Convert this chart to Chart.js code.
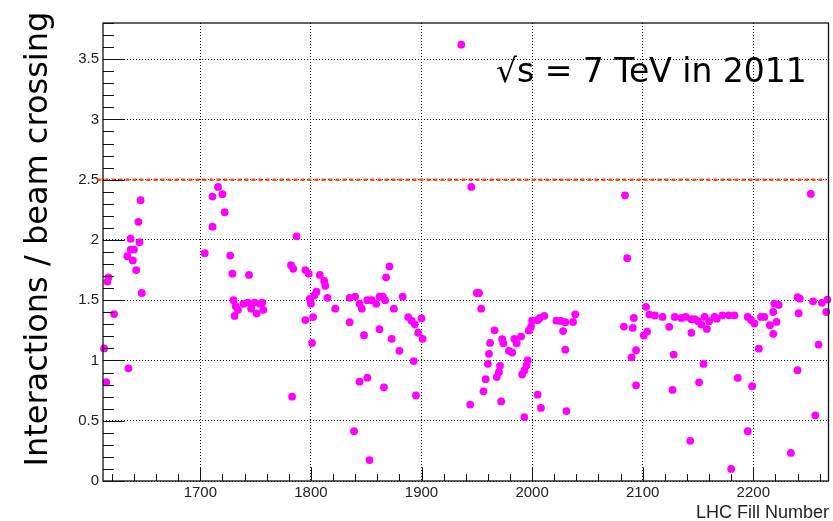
<!DOCTYPE html>
<html><head><meta charset="utf-8">
<script src="https://cdn.jsdelivr.net/npm/chart.js@4.4.1/dist/chart.umd.min.js"></script>
<style>html,body{margin:0;padding:0;background:#fff;} #wrap{width:833px;height:521px;position:relative;}</style>
</head><body><div id="wrap"><canvas id="c" width="833" height="521"></canvas></div>
<script>
// LHC fill numbers (x) and mean interactions per beam crossing (y)
const fillNumbers = [
  1613,1615,1616,1617,1622,1634,1635,1637,1637,1639,1640,1642,1644,1645,1646,1647,
  1704,1711,1711,1716,1720,1722,1727,1729,1744,1730,1731,1732,1734,1739,1743,1749,1754,1751,1757,1746,1756,
  1782,1784,1787,1783,1795,1798,1808,1812,1813,1815,1822,1805,1803,1799,1800,1795,1802,1801,
  1835,1835,1840,1844,1846,1851,1855,1859,1862,1865,1867,1871,1868,1875,1883,1848,1862,1873,1880,1888,1891,1894,1897,1901,1900,1893,1895,1844,1851,1866,1839,1853,
  1936,1945,1944,1952,1950,1954,1956,1958,1960,1961,1962,1966,1968,1970,1971,1972,1973,1974,1979,1982,1984,1986,1990,1991,1993,1995,1996,1993,1997,1999,2000,2005,2007,2011,2005,2008,
  2022,2026,2030,2028,2030,2031,2037,2039,
  2084,2086,2083,2091,2092,2094,2090,2094,2103,2101,
  2104,2106,2111,2118,2124,2128,2127,2129,2135,2139,
  2144,2147,2144,2150,2153,2156,2158,2160,2165,2167,
  2172,2178,2183,2155,2151,2143,2186,2180,2195,2195,
  2198,2201,2199,2205,2207,2210,2218,2219,2223,2215,
  2221,2218,2240,2242,2241,2240,2234,2252,2254,2259,
  2256,2262,2267,2266
];
const interactions = [
  1.10,0.82,1.655,1.69,1.385,1.865,0.935,1.92,2.01,1.83,1.92,1.75,2.15,1.98,2.33,1.56,
  1.89,2.11,2.36,2.44,2.38,2.23,1.87,1.72,1.71,1.50,1.37,1.45,1.42,1.47,1.48,1.48,1.47,1.39,1.42,1.43,1.48,
  1.79,1.76,2.03,0.70,1.75,1.72,1.71,1.66,1.62,1.52,1.43,1.57,1.54,1.51,1.47,1.335,1.36,1.145,
  1.317,1.52,1.53,1.47,1.43,1.50,1.50,1.47,1.53,1.53,1.50,1.78,1.69,1.43,1.53,1.21,1.26,1.18,1.08,1.36,1.33,1.30,1.23,1.18,1.35,0.995,0.71,0.824,0.857,0.777,0.413,0.174,
  3.62,2.44,0.634,1.56,1.56,1.43,0.744,0.845,0.972,1.055,1.146,1.25,0.862,0.903,0.956,0.66,1.176,1.143,1.08,1.066,1.18,1.143,1.198,0.884,0.917,0.959,1.0,0.53,1.248,1.28,1.33,1.336,1.353,1.37,0.716,0.606,
  1.33,1.328,1.317,1.244,1.09,0.58,1.32,1.383,
  2.37,1.848,1.281,1.27,1.353,1.085,1.026,0.794,1.445,1.207,
  1.24,1.381,1.373,1.361,1.279,1.049,0.756,1.361,1.353,1.361,
  1.342,1.342,1.229,1.326,1.298,1.361,1.262,1.326,1.361,1.347,
  1.375,1.375,1.375,0.971,0.819,0.333,0.855,0.10,0.413,1.361,
  1.336,1.306,0.786,1.098,1.361,1.361,1.402,1.472,1.461,1.293,
  1.32,1.221,1.525,1.513,1.392,0.919,0.233,2.382,1.491,1.132,
  0.545,1.478,1.505,1.402
];
const xTicks = [1700,1800,1900,2000,2100,2200];
const yTicks = [0,0.5,1,1.5,2,2.5,3,3.5];
const referenceMu = [2.5, 2.5];
const referenceFills = [1607, 2266];
const xRange = [1612, 2268];
const yRange = [0, 3.8];
const yTitle = 'Interactions / beam crossing';
const xTitle = 'LHC Fill Number';
const energyLabel = '\u221As = 7 TeV in 2011';

const points = fillNumbers.map((f,i)=>({x:f, y:interactions[i]}));
const refLine = referenceFills.map((f,i)=>({x:f, y:referenceMu[i]}));

const rootFrame = {
  id:'rootFrame',
  afterDraw(chart){
    const ctx = chart.ctx, a = chart.chartArea;
    const xs = chart.scales.x, ys = chart.scales.y;
    ctx.save();
    ctx.strokeStyle = '#111';
    ctx.lineWidth = 1.3;
    ctx.strokeRect(a.left, a.top, a.right-a.left, a.bottom-a.top);
    ctx.lineWidth = 1;
    ctx.beginPath();
    for(let i=0;i<=38;i++){
      const p = Math.round(ys.getPixelForValue(i/10))+0.5;
      const len = (i%5===0)?21.7:10.9;
      ctx.moveTo(a.left, p); ctx.lineTo(a.left+len, p);
    }
    for(let v=1620; v<=xRange[1]; v+=20){
      const p = Math.round(xs.getPixelForValue(v))+0.5;
      const len = (v%100===0)?13.7:6.9;
      ctx.moveTo(p, a.bottom); ctx.lineTo(p, a.bottom-len);
    }
    ctx.stroke();
    ctx.fillStyle = '#000';
    ctx.font = '33px "DejaVu Sans"';
    ctx.textAlign = 'left';
    ctx.textBaseline = 'alphabetic';
    ctx.fillText(energyLabel, 496, 82);
    ctx.font = '18px "Liberation Sans"';
    ctx.textAlign = 'right';
    ctx.fillStyle = '#222';
    ctx.fillText(xTitle, 829, 518);
    ctx.save();
    ctx.translate(46.5, 466.5);
    ctx.rotate(-Math.PI/2);
    ctx.textAlign = 'left';
    ctx.fillStyle = '#000';
    ctx.font = '32px "DejaVu Sans"';
    ctx.fillText(yTitle, 0, 0);
    ctx.restore();
    ctx.restore();
  }
};

new Chart(document.getElementById('c'), {
  type:'scatter',
  data:{datasets:[
    {label:'reference', data:refLine, showLine:true, borderColor:'#ff4a1a', borderWidth:2.5,
     borderDash:[4,3], pointRadius:0, clip:false, order:2},
    {label:'fills', data:points, backgroundColor:'#ff00ff', borderWidth:0, pointRadius:3.9,
     pointHoverRadius:3.9, clip:5, order:1}
  ]},
  options:{
    responsive:false, animation:false, devicePixelRatio:1,
    layout:{padding:{left:0, top:23, right:4.5, bottom:0}},
    plugins:{legend:{display:false}, tooltip:{enabled:false}},
    scales:{
      x:{type:'linear', min:xRange[0], max:xRange[1],
        afterBuildTicks:s=>{s.ticks = xTicks.map(v=>({value:v}));},
        afterFit:s=>{s.height = 40;},
        ticks:{font:{family:'Liberation Sans', size:15}, color:'#222', padding:3, maxRotation:0, autoSkip:false,
          callback:v=>String(v)},
        grid:{color:'#000', lineWidth:1, drawTicks:false},
        border:{display:false, dash:[1,2]}
      },
      y:{type:'linear', min:yRange[0], max:yRange[1],
        afterBuildTicks:s=>{s.ticks = yTicks.map(v=>({value:v}));},
        afterFit:s=>{s.width = 103;},
        ticks:{font:{family:'Liberation Sans', size:15}, color:'#222', padding:4, autoSkip:false,
          callback:v=>String(v)},
        grid:{color:'#000', lineWidth:1, drawTicks:false},
        border:{display:false, dash:[1,2]}
      }
    }
  },
  plugins:[rootFrame]
});
</script></body></html>
